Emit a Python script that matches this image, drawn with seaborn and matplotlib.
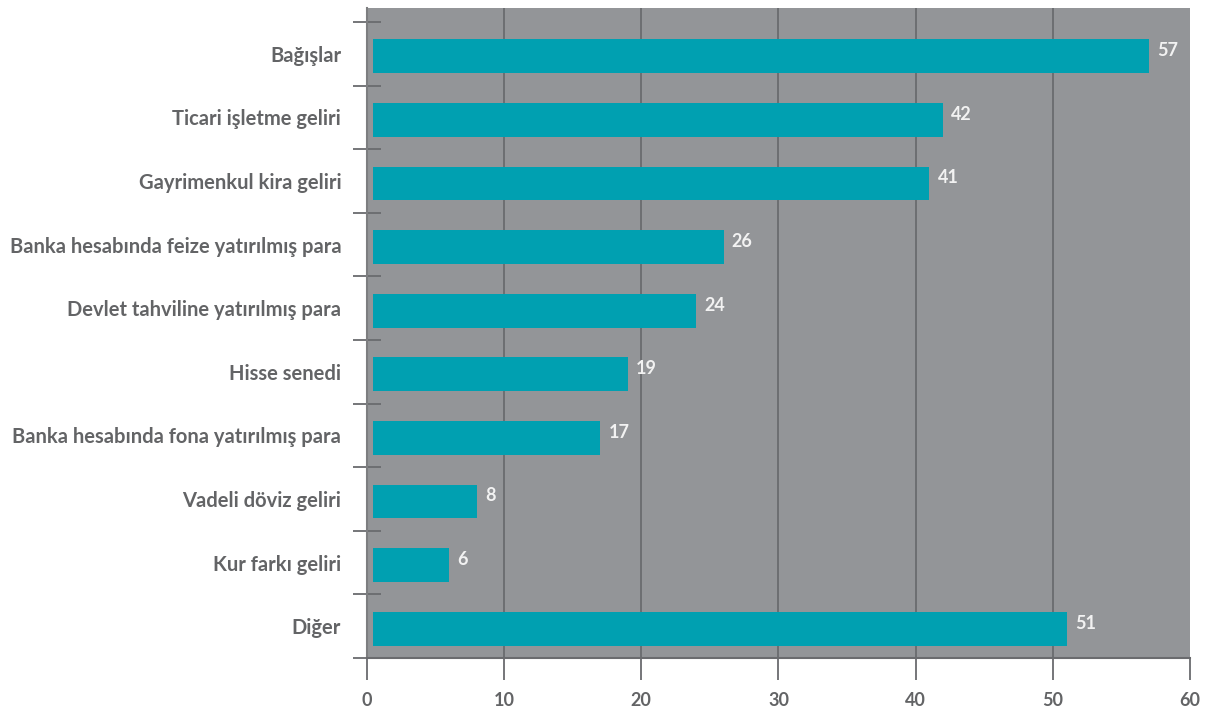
import matplotlib.pyplot as plt
import pandas as pd
import seaborn as sns

categories = [
    "Bağışlar",
    "Ticari işletme geliri",
    "Gayrimenkul kira geliri",
    "Banka hesabında feize yatırılmış para",
    "Devlet tahviline yatırılmış para",
    "Hisse senedi",
    "Banka hesabında fona yatırılmış para",
    "Vadeli döviz geliri",
    "Kur farkı geliri",
    "Diğer",
]
values = [57, 42, 41, 26, 24, 19, 17, 8, 6, 51]
x_ticks = [0, 10, 20, 30, 40, 50, 60]

BG_GRAY = "#939598"
BAR_COLOR = "#00a0b1"
LINE_COLOR = "#6a6b6e"
TEXT_COLOR = "#636466"

sns.set_style("white")
plt.rcParams["font.family"] = ["Lato", "DejaVu Sans"]

df = pd.DataFrame({"category": categories, "value": values})

fig = plt.figure(figsize=(12.11, 7.11), dpi=100)
ax = fig.add_axes([0.303, 0.0745, 0.6797, 0.9143])
ax.set_facecolor(BG_GRAY)

sns.barplot(data=df, x="value", y="category", orient="h", color=BAR_COLOR,
            width=0.53, saturation=1, ax=ax, zorder=3)

# bars start slightly right of the axis
for patch in ax.patches:
    w = patch.get_width()
    patch.set_x(0.45)
    patch.set_width(w - 0.45)
    patch.set_y(patch.get_y() + 0.04)
    patch.set_edgecolor("none")

for i, v in enumerate(values):
    ax.text(v + 0.6, i - 0.05, str(v), color="#f2f2f2", fontsize=13,
            fontweight="bold", va="center", ha="left", zorder=4)

ax.set_xlim(0, 60)
ax.set_ylim(9.5, -0.72)
ax.set_xticks(x_ticks)
ax.set_xticklabels([str(t) for t in x_ticks], fontsize=13, fontweight="bold",
                   color=TEXT_COLOR)
for t in x_ticks[1:-1]:
    ax.axvline(t, color=LINE_COLOR, linewidth=1.3, zorder=2)

ax.set_yticks(range(len(categories)))
ax.set_yticklabels(categories, fontsize=14.5, fontweight="bold", color=TEXT_COLOR)
ax.set_yticks([i - 0.5 for i in range(len(categories) + 1)], minor=True)
ax.tick_params(axis="y", which="major", left=True, length=0, pad=18.5)
ax.tick_params(axis="y", which="minor", left=True, direction="inout", length=20,
               width=1.3, color=LINE_COLOR)
ax.tick_params(axis="x", which="major", bottom=True, direction="out", length=15.8,
               width=1.3, color=LINE_COLOR, pad=9)

ax.set_xlabel("")
ax.set_ylabel("")
for side in ["top", "right"]:
    ax.spines[side].set_visible(False)
ax.spines["left"].set_color("#7d7e80")
ax.spines["left"].set_linewidth(1.5)
ax.spines["bottom"].set_color(LINE_COLOR)
ax.spines["bottom"].set_linewidth(1.5)

fig.savefig("out.png", dpi=100)
